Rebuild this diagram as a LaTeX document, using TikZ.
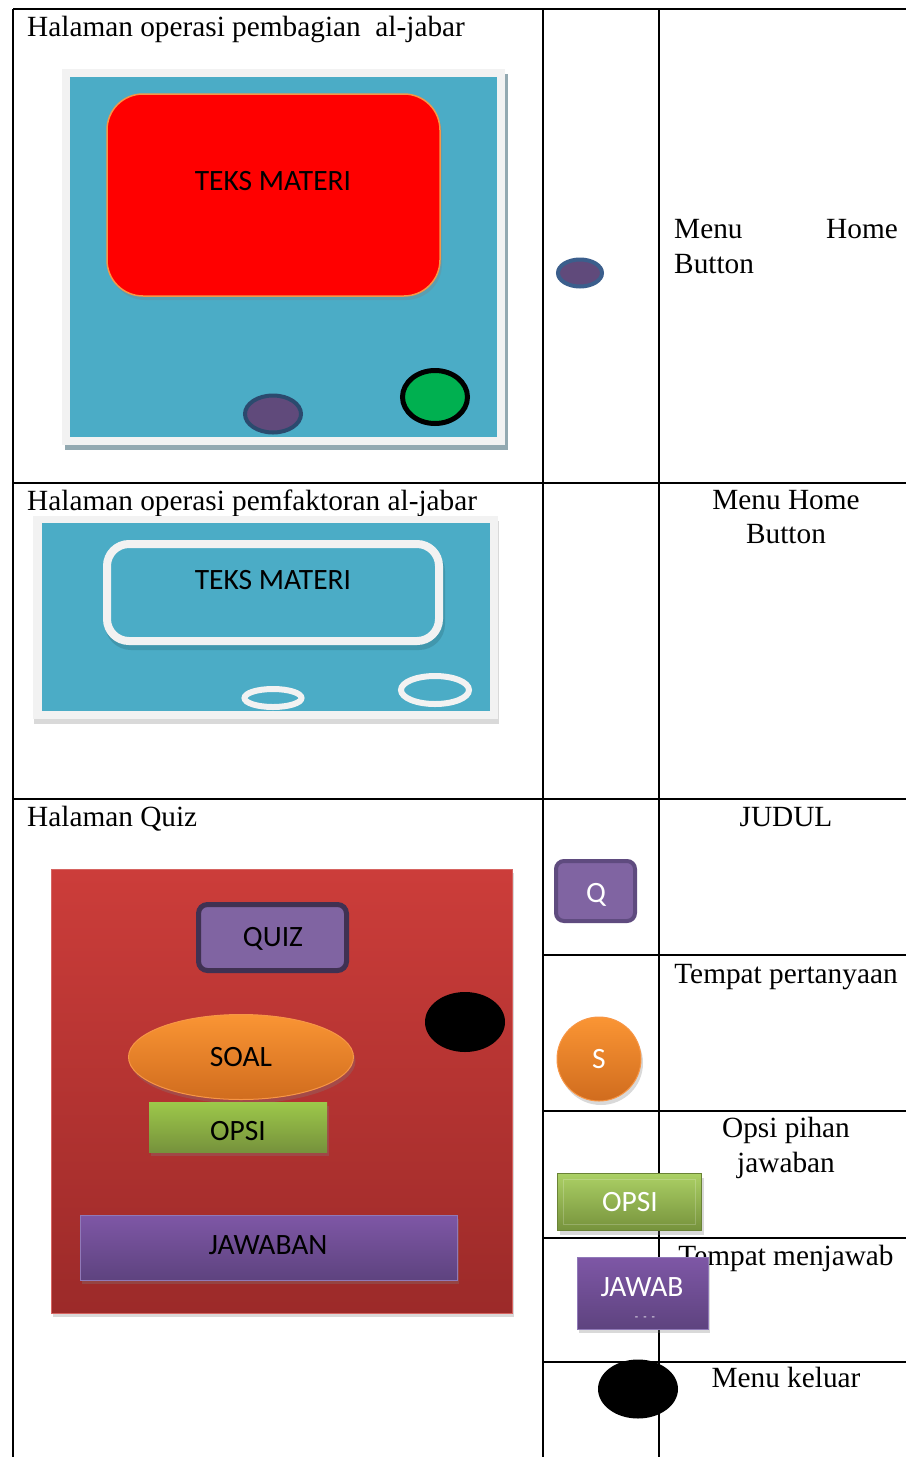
\documentclass[tikz,border=0pt]{standalone}
\usepackage{fontspec}
\setmainfont{Liberation Serif}
\newfontfamily\uifont{Carlito}
\usetikzlibrary{shapes.geometric,shadows,calc}

\definecolor{teal}{HTML}{4BACC6}
\definecolor{frame}{HTML}{F2F2F2}
\definecolor{frameshadow}{HTML}{93A9B1}
\definecolor{btnpurple}{HTML}{604A7B}
\definecolor{btnblue}{HTML}{2B4A6E}
\definecolor{btnblue2}{HTML}{3B5E8C}
\definecolor{exitgreen}{HTML}{00B050}
\definecolor{quiztop}{HTML}{CC3D3A}
\definecolor{quizbot}{HTML}{9C2A29}
\definecolor{lilac}{HTML}{8064A2}
\definecolor{lilacdark}{HTML}{403152}
\definecolor{lilacmid}{HTML}{5F4B7F}
\definecolor{orangetop}{HTML}{FA9534}
\definecolor{orangebot}{HTML}{D06C1E}
\definecolor{orangeedge}{HTML}{F79646}
\definecolor{greentop}{HTML}{9DC84A}
\definecolor{greenbot}{HTML}{76923C}
\definecolor{violettop}{HTML}{7E57A6}
\definecolor{violetbot}{HTML}{5E437F}
\definecolor{violetedge}{HTML}{9079B8}

\begin{document}
\begin{tikzpicture}[x=1pt,y=-1pt,
  rule/.style={line width=2pt},
  cell/.style={font=\fontsize{29.3}{34}\selectfont, inner sep=0pt},
  ui/.style={font=\uifont\fontsize{29.5}{34}\selectfont, inner sep=0pt},
  uiw/.style={ui, text=white},
  softshadow/.style={drop shadow={opacity=0.3, shadow xshift=2pt, shadow yshift=-4pt}},
  oval/.style={ellipse, inner sep=0pt},
]
\useasboundingbox (0,0) rectangle (906,1457);

% ---------- table rules ----------
\draw[rule] (13,9) -- (906,9);
\draw[rule] (13,483) -- (906,483);
\draw[rule] (13,799) -- (906,799);
\draw[rule] (543,955) -- (906,955);
\draw[rule] (543,1111) -- (906,1111);
\draw[rule] (543,1238) -- (906,1238);
\draw[rule] (543,1362) -- (906,1362);
\draw[rule] (13,9) -- (13,1457);
\draw[rule] (543,9) -- (543,1457);
\draw[rule] (659,9) -- (659,1457);

% ---------- row 1: division page ----------
\node[cell, anchor=base west] (t1) at (27,36) {Halaman operasi pembagian\ \ al-jabar};
\fill[frameshadow] (65,74) rectangle (508,450);
\fill[frame] (62,69) rectangle (505,445);
\fill[teal] (70,77) rectangle (497,437);
\node[draw=orangeedge, line width=1.5pt, fill=red, rounded corners=36pt,
      minimum width=333pt, minimum height=202pt, inner sep=0pt, softshadow] (red1) at (273.5,195) {};
\node[ui] (red1txt) at (273,181) {TEKS MATERI};
\node[oval, fill=btnpurple, draw=btnblue, line width=4pt,
      minimum width=56pt, minimum height=37pt] (home1) at (273,414) {};
\node[oval, fill=exitgreen, draw=black, line width=5pt,
      minimum width=65pt, minimum height=53pt] (exit1) at (435,397) {};

\node[oval, fill=btnpurple, draw=btnblue2, line width=4pt,
      minimum width=44pt, minimum height=27pt] (homeicon) at (580,273) {};
\node[cell, anchor=base west] (m1a) at (674,238) {Menu};
\node[cell, anchor=base east] (m1b) at (898,238) {Home};
\node[cell, anchor=base west] (m1c) at (674,273) {Button};

% ---------- row 2: factoring page ----------
\node[cell, anchor=base west] (t2) at (27,510) {Halaman operasi pemfaktoran al-jabar};
\fill[frame, drop shadow={opacity=0.3, shadow xshift=1pt, shadow yshift=-5pt}] (33,516) rectangle (498,719);
\fill[teal] (42,523) rectangle (490,711);
% soft shadow under the outlined text frame
\draw[black, opacity=0.12, line width=8pt, rounded corners=22pt] (109,549) rectangle (441,646);
\node[draw=frame, fill=teal, line width=8pt, rounded corners=22pt,
      minimum width=332pt, minimum height=97pt, inner sep=0pt] (box2) at (273,592.5) {};
\node[ui] (box2txt) at (273,580) {TEKS MATERI};
\node[oval, draw=frame, line width=6pt, minimum width=57pt, minimum height=18pt] (home2) at (273,698) {};
\node[oval, draw=frame, line width=6pt, minimum width=68pt, minimum height=28pt] (exit2) at (435,690) {};

\node[cell, anchor=base] (m2a) at (786,509) {Menu Home};
\node[cell, anchor=base] (m2b) at (786,543) {Button};

% ---------- row 3: quiz page ----------
\node[cell, anchor=base west] (t3) at (27,826) {Halaman Quiz};
\shade[top color=quiztop, bottom color=quizbot, draw=quiztop!80!white, line width=0.8pt,
       drop shadow={opacity=0.3, shadow xshift=2pt, shadow yshift=-4pt}] (51,869) rectangle (512,1313);
\node[fill=lilac, draw=lilacdark, line width=5pt, rounded corners=9pt,
      minimum width=148pt, minimum height=66pt, inner sep=0pt] (quiz) at (272.5,937.5) {};
\node[ui] (quiztxt) at (273,939) {QUIZ};
\node[oval, fill=black, minimum width=80pt, minimum height=60pt] (exit3) at (465,1022) {};
\node[oval, top color=orangetop, bottom color=orangebot, draw=orangeedge, line width=1pt,
      minimum width=225pt, minimum height=85pt, softshadow] (soal) at (241,1057) {};
\node[ui] (soaltxt) at (241,1057) {SOAL};
\node[rectangle, top color=greentop, bottom color=greenbot, inner sep=0pt,
      minimum width=178pt, minimum height=50pt, softshadow] (opsi) at (238,1127) {};
\node[ui] (opsitxt) at (238,1131) {OPSI};
\node[rectangle, top color=violettop, bottom color=violetbot, draw=violetedge, line width=1pt,
      inner sep=0pt, minimum width=377pt, minimum height=65pt, softshadow] (jawaban) at (268.5,1247.5) {};
\node[ui] (jawabantxt) at (268,1245) {JAWABAN};

% ---------- row 3: legend column ----------
\node[cell, anchor=base] (judul) at (786,826) {JUDUL};
\node[fill=lilac, draw=lilacmid, line width=4pt, rounded corners=8pt,
      minimum width=79pt, minimum height=60pt, inner sep=0pt] (qbtn) at (595.5,891) {};
\node[uiw] (qtxt) at (596,895) {Q};

\node[cell, anchor=base] (tanya) at (786,983) {Tempat pertanyaan};
\node[circle, top color=orangetop, bottom color=orangebot, draw=orangeedge, line width=1pt,
      minimum size=84pt, inner sep=0pt, softshadow] (sbtn) at (599,1059) {};
\node[uiw] (stxt) at (599,1059) {S};

\node[cell, anchor=base] (opsa) at (786,1137) {Opsi pihan};
\node[cell, anchor=base] (opsb) at (786,1172) {jawaban};
\node[rectangle, top color=greentop!85!white, bottom color=greenbot, draw=greenbot!90!black, line width=0.8pt,
      minimum width=144pt, minimum height=57pt, inner sep=0pt, softshadow] (opsibtn) at (629.5,1202) {};
\draw[white, opacity=0.2, line width=1pt] ($(opsibtn.north west)+(6,6)$) rectangle ($(opsibtn.south east)+(-6,-6)$);
\node[uiw] (opsibtntxt) at (630,1202) {OPSI};

\node[cell, anchor=base] (jawabcap) at (786,1265) {Tempat menjawab};
\node[rectangle, top color=violettop, bottom color=violetbot, draw=violetedge, line width=0.8pt,
      minimum width=131pt, minimum height=72pt, inner sep=0pt, softshadow] (jawabbtn) at (642.5,1293) {};
\node[uiw] (jawabtxt) at (642,1287) {JAWAB};
\node[text=white, font=\uifont\fontsize{11}{12}\selectfont, inner sep=0pt] (jawabdots) at (645,1319) {-\ \ -\ \ -};

\node[cell, anchor=base] (keluar) at (786,1387) {Menu keluar};
\node[oval, fill=black, minimum width=80pt, minimum height=59pt] (exit4) at (638,1389) {};
\end{tikzpicture}
\end{document}
